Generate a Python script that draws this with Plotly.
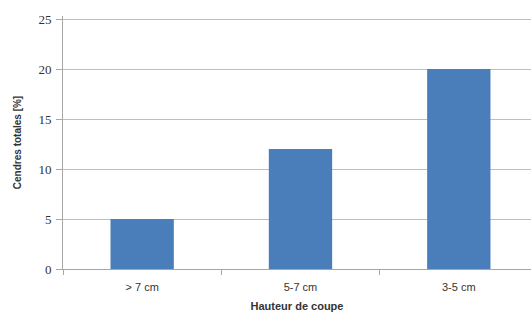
import plotly.graph_objects as go

categories = ["> 7 cm", "5-7 cm", "3-5 cm"]
values = [5, 12, 20]
y_ticks = [0, 5, 10, 15, 20, 25]

fig = go.Figure(go.Bar(x=categories, y=values, marker=dict(color="#4A7EBB", line=dict(width=0)), width=0.4))

fig.update_layout(
    width=531, height=320,
    margin=dict(l=63, r=0, t=16, b=51),
    paper_bgcolor="white", plot_bgcolor="white",
    showlegend=False,
)
fig.update_xaxes(
    type="category",
    range=[-0.5, 2.456],
    showline=True, linecolor="#A6A6A6", linewidth=1,
    ticks="outside", tickson="boundaries", ticklen=5, tickcolor="#A6A6A6",
    ticklabelstandoff=8,
    tickfont=dict(family="Liberation Sans", size=11, color="#333333"),
    title=dict(text="<b>Hauteur de coupe</b>", font=dict(family="Liberation Sans", size=11, color="#333333"), standoff=10),
    showgrid=False,
)
fig.update_yaxes(
    range=[0, 25.3], tickvals=y_ticks,
    showline=True, linecolor="#A6A6A6", linewidth=1,
    ticks="outside", ticklen=6, tickcolor="#A6A6A6",
    showgrid=True, gridcolor="#BFBFBF", gridwidth=1,
    zeroline=False,
    ticklabelstandoff=2,
    tickfont=dict(family="Liberation Serif", size=13, color="#333333"),
    title=dict(text="<b>Cendres totales [%]</b>", font=dict(family="Liberation Sans", size=10, color="#333333"), standoff=14),
)
fig.write_html("out.html")
